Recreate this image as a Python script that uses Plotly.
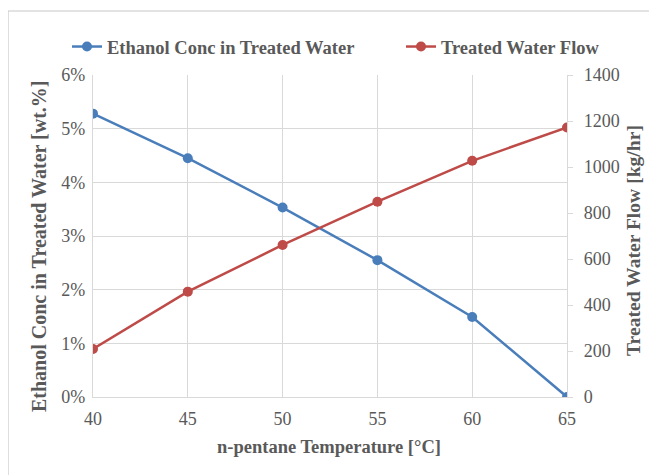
import plotly.graph_objects as go

temperature = [40, 45, 50, 55, 60, 65]
ethanol_conc = [0.0528, 0.0445, 0.0353, 0.0255, 0.0149, 0.0]
water_flow = [209, 458, 661, 849, 1027, 1172]

BLUE = "#4a7ebb"
RED = "#be4b48"
GRAY = "#595959"
GRID = "#d9d9d9"
FONT = "Liberation Serif"

W, H = 657, 475
OX, OY = 8, 8  # page body offset
# desired plot box in screen pixels
SL, SR, ST, SB = 93, 567, 75, 397
L, T = SL - OX, ST - OY
R = W - (SR - OX)
B = H - (SB - OY)
pw, ph = SR - SL, SB - ST

def px(x):
    return (x - SL) / pw

def py(y):
    return (SB - y) / ph

fig = go.Figure()
fig.add_trace(go.Scatter(
    x=temperature, y=ethanol_conc, name="<b>Ethanol Conc in Treated Water</b>",
    mode="lines+markers", line=dict(color=BLUE, width=2.5),
    marker=dict(size=10, color=BLUE), legend="legend", yaxis="y"))
fig.add_trace(go.Scatter(
    x=temperature, y=water_flow, name="<b>Treated Water Flow</b>",
    mode="lines+markers", line=dict(color=RED, width=2.5),
    marker=dict(size=10, color=RED), legend="legend2", yaxis="y2"))

legend_common = dict(orientation="h", yanchor="middle", xanchor="left",
                     font=dict(family=FONT, size=18.5, color=GRAY),
                     bgcolor="rgba(0,0,0,0)", itemwidth=30)

tickfont = dict(family=FONT, size=18, color=GRAY)

fig.update_layout(
    width=W, height=H,
    margin=dict(l=L, r=R, t=T, b=B),
    paper_bgcolor="white", plot_bgcolor="white",
    font=dict(family=FONT, color=GRAY, size=15),
    legend=dict(x=px(67), y=py(47), **legend_common),
    legend2=dict(x=px(401), y=py(47), **legend_common),
    xaxis=dict(range=[40, 65], tickmode="array", tickvals=temperature,
               showgrid=True, gridcolor=GRID, gridwidth=1.3,
               showline=True, linecolor=GRID, linewidth=1.3,
               ticks="", ticklabelstandoff=5, tickfont=tickfont,
               zeroline=False),
    yaxis=dict(range=[0, 0.06], dtick=0.01, tickformat=".0%",
               showgrid=True, gridcolor=GRID, gridwidth=1.3,
               showline=True, linecolor=GRID, linewidth=1.3,
               ticks="", ticklabelstandoff=3, tickfont=tickfont,
               zeroline=False),
    yaxis2=dict(range=[0, 1400], dtick=200, overlaying="y", side="right",
                showgrid=False, showline=True, linecolor=GRID, linewidth=1.3,
                ticks="outside", ticklen=5, tickcolor=GRID,
                ticklabelstandoff=7, tickfont=tickfont,
                zeroline=False),
    showlegend=True,
)

fig.add_annotation(text="<b>n-pentane Temperature [°C]</b>", xref="paper", yref="paper",
                   x=px(329), y=py(447), showarrow=False,
                   font=dict(family=FONT, size=18.5, color=GRAY),
                   xanchor="center", yanchor="middle")
fig.add_annotation(text="<b>Ethanol Conc in Treated Water [wt.%]</b>", xref="paper", yref="paper",
                   x=px(39), y=py(247), showarrow=False,
                   font=dict(family=FONT, size=20, color=GRAY), textangle=-90,
                   xanchor="center", yanchor="middle")
fig.add_annotation(text="<b>Treated Water Flow [kg/hr]</b>", xref="paper", yref="paper",
                   x=px(633), y=py(241), showarrow=False,
                   font=dict(family=FONT, size=19.6, color=GRAY), textangle=-90,
                   xanchor="center", yanchor="middle")

fig.add_shape(type="rect", xref="paper", yref="paper",
              x0=px(8), x1=px(720), y0=py(520), y1=py(11),
              line=dict(color="#c8c8c8", width=1.2), layer="below")

fig.write_html("out.html")
